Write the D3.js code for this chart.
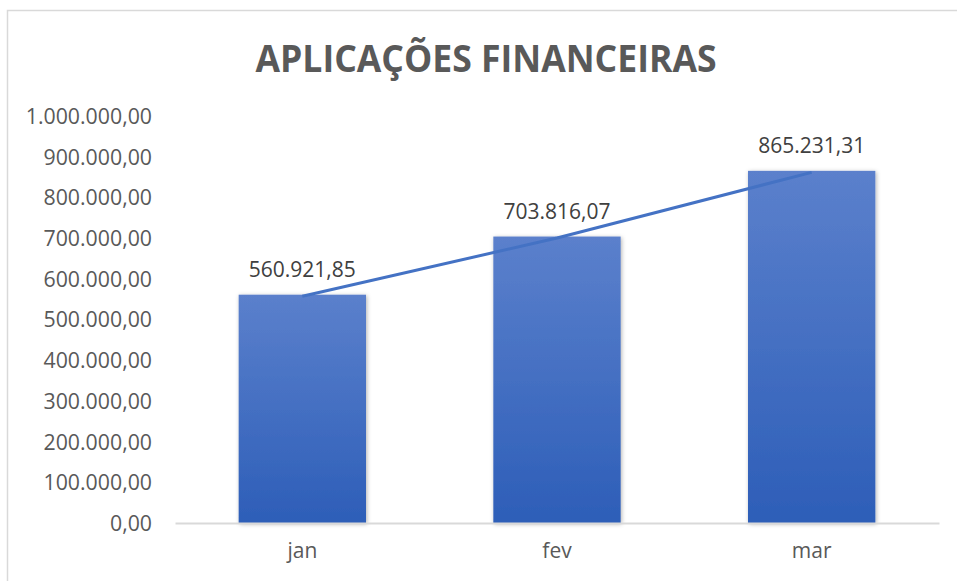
<!DOCTYPE html>
<html>
<head>
<meta charset="utf-8">
<script src="https://cdn.jsdelivr.net/npm/d3@7"></script>
<style>
  body { margin: 0; background: #fff; }
  text { font-family: "Segoe UI", "Open Sans", sans-serif; }
</style>
</head>
<body>
<div id="chart"></div>
<script>
// data
var months = ["jan", "fev", "mar"];
var values = [560921.85, 703816.07, 865231.31];
var yTicks = [0, 100000, 200000, 300000, 400000, 500000, 600000, 700000, 800000, 900000, 1000000];

var W = 957, H = 581;
var plot = { left: 175, right: 939, top: 116, bottom: 523 };

var ptBR = d3.formatLocale({ decimal: ",", thousands: ".", grouping: [3], currency: ["R$", ""] });
var fmt = ptBR.format(",.2f");

var svg = d3.select("#chart").append("svg")
    .attr("width", W)
    .attr("height", H);

// gradient + shadow
var defs = svg.append("defs");
var grad = defs.append("linearGradient")
    .attr("id", "barGrad")
    .attr("x1", 0).attr("y1", 0).attr("x2", 0).attr("y2", 1);
grad.append("stop").attr("offset", "0%").attr("stop-color", "#5B80CC");
grad.append("stop").attr("offset", "100%").attr("stop-color", "#2D5EB8");

var shadow = defs.append("filter").attr("id", "shadow")
    .attr("x", "-10%").attr("y", "-10%").attr("width", "130%").attr("height", "130%");
shadow.append("feDropShadow")
    .attr("dx", 1).attr("dy", 1).attr("stdDeviation", 2)
    .attr("flood-color", "#000").attr("flood-opacity", 0.3);

// chart border
svg.append("rect")
    .attr("x", 7.5).attr("y", 10.5)
    .attr("width", 1000).attr("height", 1000)
    .attr("fill", "none")
    .attr("stroke", "#D9D9D9")
    .attr("stroke-width", 1.5);

// scales
var x = d3.scaleBand()
    .domain(months)
    .range([plot.left, plot.right])
    .paddingInner(0.5)
    .paddingOuter(0.25);

var y = d3.scaleLinear()
    .domain([0, 1000000])
    .range([plot.bottom, plot.top]);

// title
svg.append("text")
    .attr("x", 486)
    .attr("y", 72)
    .attr("text-anchor", "middle")
    .attr("font-size", 37)
    .attr("font-weight", "bold")
    .attr("fill", "#595959")
    .attr("textLength", 461)
    .attr("lengthAdjust", "spacingAndGlyphs")
    .text("APLICAÇÕES FINANCEIRAS");

// y axis (labels only)
var yAxis = svg.append("g")
    .attr("transform", "translate(" + 152 + ",0)")
    .call(d3.axisLeft(y).tickValues(yTicks).tickFormat(fmt).tickSize(0).tickPadding(0));
yAxis.select(".domain").remove();
yAxis.selectAll("text")
    .attr("font-size", 21.3)
    .attr("fill", "#595959")
    .attr("dy", "0.35em");

// bars
svg.append("g")
    .selectAll("rect")
    .data(values)
    .enter()
    .append("rect")
    .attr("x", (d, i) => x(months[i]))
    .attr("y", d => y(d))
    .attr("width", x.bandwidth())
    .attr("height", d => y(0) - y(d))
    .attr("fill", "url(#barGrad)")
    .attr("filter", "url(#shadow)");

// x axis
var xAxis = svg.append("g")
    .attr("transform", "translate(0," + plot.bottom + ")")
    .call(d3.axisBottom(x).tickSize(0).tickPadding(20));
xAxis.select(".domain")
    .attr("stroke", "#D9D9D9")
    .attr("stroke-width", 2);
xAxis.selectAll("text")
    .attr("font-size", 21)
    .attr("fill", "#595959");

// line series
var line = d3.line()
    .x((d, i) => x(months[i]) + x.bandwidth() / 2)
    .y(d => y(d) + 1.5);

svg.append("path")
    .datum(values)
    .attr("d", line)
    .attr("fill", "none")
    .attr("stroke", "#4472C4")
    .attr("stroke-width", 3);

// data labels
svg.append("g")
    .selectAll("text")
    .data(values)
    .enter()
    .append("text")
    .attr("x", (d, i) => x(months[i]) + x.bandwidth() / 2)
    .attr("y", d => y(d) - 18)
    .attr("text-anchor", "middle")
    .attr("font-size", 21)
    .attr("fill", "#404040")
    .text(d => fmt(d));
</script>
</body>
</html>
